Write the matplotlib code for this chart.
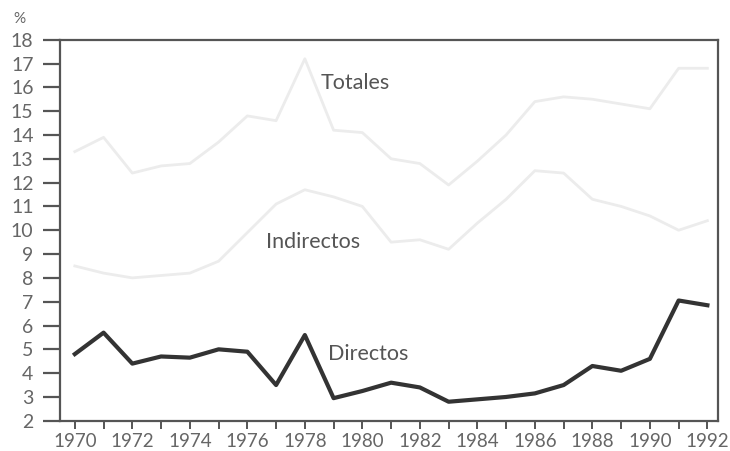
import matplotlib
matplotlib.use("Agg")
import matplotlib.pyplot as plt
from matplotlib.ticker import MultipleLocator

# datos (% )
years = list(range(1970, 1993))
totales = [13.3, 13.9, 12.4, 12.7, 12.8, 13.7, 14.8, 14.6, 17.2, 14.2, 14.1, 13.0,
           12.8, 11.9, 12.9, 14.0, 15.4, 15.6, 15.5, 15.3, 15.1, 16.8, 16.8]
indirectos = [8.5, 8.2, 8.0, 8.1, 8.2, 8.7, 9.9, 11.1, 11.7, 11.4, 11.0, 9.5,
              9.6, 9.2, 10.3, 11.3, 12.5, 12.4, 11.3, 11.0, 10.6, 10.0, 10.4]
directos = [4.8, 5.7, 4.4, 4.7, 4.65, 5.0, 4.9, 3.5, 5.6, 2.95, 3.25, 3.6,
            3.4, 2.8, 2.9, 3.0, 3.15, 3.5, 4.3, 4.1, 4.6, 7.05, 6.85]

plt.rcParams['font.family'] = ['Lato', 'DejaVu Sans']
fig = plt.figure(figsize=(7.3, 4.51), dpi=100)
ax = fig.add_axes([0.082, 0.067, 0.902, 0.845])

ax.plot(years, totales, color='#ececec', linewidth=2)
ax.plot(years, indirectos, color='#ececec', linewidth=2)
ax.plot(years, directos, color='#333333', linewidth=3)

ax.set_xlim(1969.48, 1992.38)
ax.set_ylim(2, 18)
ax.yaxis.set_major_locator(MultipleLocator(1))
ax.set_xticks(years)
ax.set_xticklabels([str(y) if y % 2 == 0 else '' for y in years])

for s in ax.spines.values():
    s.set_color('#555555')
    s.set_linewidth(1.6)

ax.tick_params(axis='y', direction='out', length=12, width=1.6, color='#555555',
               labelsize=14, labelcolor='#666666', pad=7)
ax.tick_params(axis='x', direction='out', length=6, width=1.4, color='#555555',
               labelsize=13.5, labelcolor='#666666', pad=3)

ax.text(1979.75, 16.2, 'Totales', fontsize=15.5, color='#555555', ha='center', va='center')
ax.text(1978.3, 9.5, 'Indirectos', fontsize=15.5, color='#555555', ha='center', va='center')
ax.text(1980.2, 4.8, 'Directos', fontsize=15.5, color='#555555', ha='center', va='center')
fig.text(0.027, 0.958, '%', fontsize=11, color='#666666', ha='center', va='center')

fig.savefig('out.png', dpi=100)
